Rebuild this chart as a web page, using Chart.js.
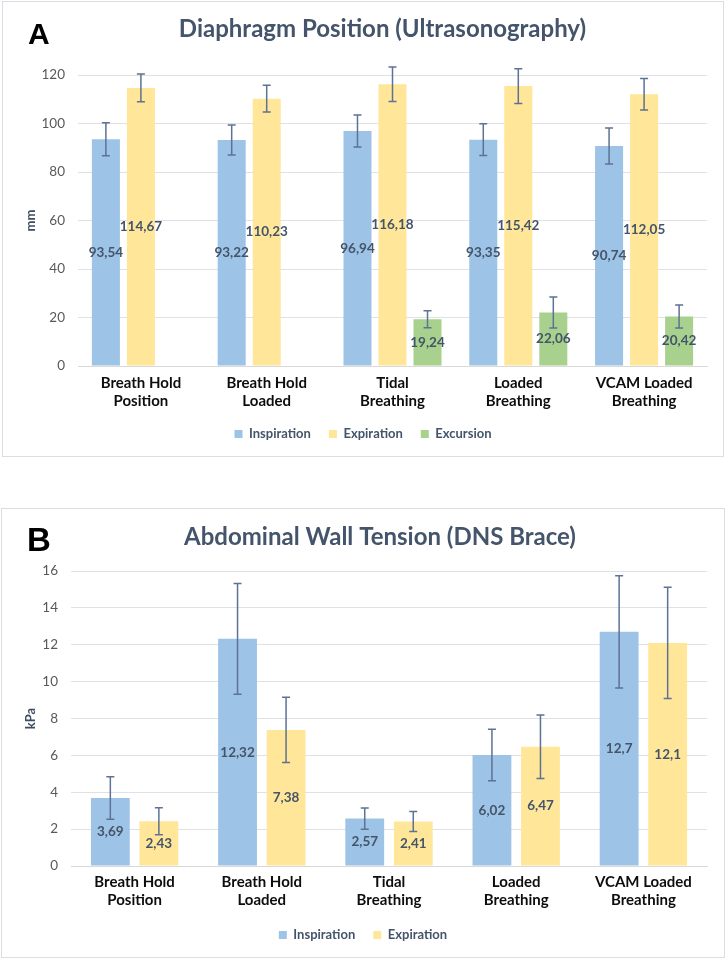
<!DOCTYPE html>
<html><head><meta charset="utf-8">
<script src="https://cdn.jsdelivr.net/npm/chart.js@4.4.0/dist/chart.umd.min.js"></script>
<style>
body{margin:0;background:#fff;width:726px;height:959px;position:relative;overflow:hidden;font-family:Lato,sans-serif}
.box{position:absolute;border:1px solid #dadde2;box-sizing:border-box}
.wrap{position:absolute;left:0;width:726px}
</style></head><body>
<div class="box" style="left:2px;top:1px;width:722px;height:456px"></div>
<div class="box" style="left:1px;top:508px;width:724px;height:450px"></div>
<div class="wrap" style="top:0;height:458px"><canvas id="cA"></canvas></div>
<div class="wrap" style="top:500px;height:459px"><canvas id="cB"></canvas></div>
<script>
// ---------- DATA ----------
const categories = [["Breath Hold","Position"],["Breath Hold","Loaded"],["Tidal","Breathing"],["Loaded","Breathing"],["VCAM Loaded","Breathing"]];
const seriesNamesA = ["Inspiration","Expiration","Excursion"];
const inspA = [93.54, 93.22, 96.94, 93.35, 90.74];
const expA  = [114.67, 110.23, 116.18, 115.42, 112.05];
const excA  = [null, null, 19.24, 22.06, 20.42];
const inspErrA = [6.8, 6.2, 6.6, 6.5, 7.4];
const expErrA  = [5.7, 5.5, 7.1, 7.2, 6.5];
const excErrA  = [null, null, 3.5, 6.4, 4.7];
const ticksA = [0, 20, 40, 60, 80, 100, 120];

const seriesNamesB = ["Inspiration","Expiration"];
const inspB = [3.69, 12.32, 2.57, 6.02, 12.7];
const expB  = [2.43, 7.38, 2.41, 6.47, 12.1];
const inspErrB = [1.15, 3.0, 0.57, 1.4, 3.04];
const expErrB  = [0.73, 1.77, 0.54, 1.72, 3.02];
const ticksB = [0, 2, 4, 6, 8, 10, 12, 14, 16];

const titleA = "Diaphragm Position (Ultrasonography)";
const titleB = "Abdominal Wall Tension (DNS Brace)";

// ---------- STYLE ----------
const COL = {insp:"#9dc3e6", exp:"#ffe699", exc:"#a9d18e"};
const FONT = "Lato, 'Open Sans', sans-serif";

const panelPlugin = {
  id: 'panel',
  afterDraw(chart, args, o) {
    const ctx = chart.ctx;
    ctx.save();
    ctx.fillStyle = '#000';
    ctx.font = `bold ${o.letterSize}px 'Liberation Sans', Arial, sans-serif`;
    ctx.textAlign = 'left'; ctx.textBaseline = 'alphabetic';
    ctx.fillText(o.letter, o.letterX, o.letterY);
    ctx.fillStyle = '#44546a';
    ctx.font = `bold ${o.titleSize}px ${FONT}`;
    ctx.textAlign = 'center';
    ctx.fillText(o.title, o.titleX, o.titleY);
    ctx.restore();
  }
};

const errLabelPlugin = {
  id: 'errLabels',
  afterDatasetsDraw(chart, args, o) {
    const ctx = chart.ctx;
    const yS = chart.scales.y;
    ctx.save();
    chart.data.datasets.forEach((ds, di) => {
      const meta = chart.getDatasetMeta(di);
      meta.data.forEach((el, i) => {
        const v = ds.data[i];
        const e = ds.errors ? ds.errors[i] : null;
        if (v == null || e == null) return;
        const yt = yS.getPixelForValue(v + e), yb = yS.getPixelForValue(v - e);
        ctx.strokeStyle = '#5d7294'; ctx.lineWidth = 1.5;
        ctx.beginPath();
        ctx.moveTo(el.x, yt); ctx.lineTo(el.x, yb);
        ctx.moveTo(el.x - 4, yt); ctx.lineTo(el.x + 4, yt);
        ctx.moveTo(el.x - 4, yb); ctx.lineTo(el.x + 4, yb);
        ctx.stroke();
      });
    });
    ctx.fillStyle = '#44546a';
    ctx.font = `bold 13.5px ${FONT}`;
    ctx.textAlign = 'center'; ctx.textBaseline = 'middle';
    chart.data.datasets.forEach((ds, di) => {
      const meta = chart.getDatasetMeta(di);
      meta.data.forEach((el, i) => {
        const v = ds.data[i];
        if (v == null) return;
        ctx.fillText(String(v).replace('.', ','), el.x, (el.y + el.base) / 2);
      });
    });
    ctx.restore();
  }
};

function makeChart(id, cfg) {
  return new Chart(document.getElementById(id), {
    type: 'bar',
    data: { labels: categories, datasets: cfg.datasets },
    plugins: [panelPlugin, errLabelPlugin],
    options: {
      responsive: true, maintainAspectRatio: false, animation: false,
      devicePixelRatio: 1,
      layout: { padding: { left: 19, right: 19, top: cfg.top, bottom: 7.5 } },
      datasets: { bar: { categoryPercentage: cfg.catPct, barPercentage: 0.8 } },
      scales: {
        x: {
          grid: { display: false, drawTicks: false },
          border: { display: true, color: '#d9d9d9' },
          ticks: { padding: cfg.xPad, color: '#0d0d0d', font: { family: FONT, size: 15, weight: 'bold', lineHeight: 1.22 }, maxRotation: 0, autoSkip: false },
          afterFit(s) { s.height = cfg.xH; }
        },
        y: {
          min: cfg.ticks[0], max: cfg.ticks[cfg.ticks.length - 1],
          afterBuildTicks(s) { s.ticks = cfg.ticks.map(v => ({ value: v })); },
          grid: { color: '#dfe1e5', drawTicks: false },
          border: { display: false },
          ticks: { padding: 13, color: '#595959', font: { family: FONT, size: 13.5 } },
          title: { display: true, text: cfg.unit, color: '#3f4d63', font: { family: FONT, size: 13, weight: 'bold' }, padding: { top: 4.2, bottom: 0 } },
          afterFit(s) { s.width = cfg.yW; }
        }
      },
      plugins: {
        title: { display: false },
        tooltip: { enabled: false },
        legend: {
          position: 'bottom',
          labels: { boxWidth: 8, boxHeight: 8, padding: 18, color: '#44546a', font: { family: FONT, size: 13, weight: 'bold' } }
        },
        panel: cfg.panel
      }
    }
  });
}

makeChart('cA', {
  datasets: [
    { label: seriesNamesA[0], data: inspA, errors: inspErrA, backgroundColor: COL.insp },
    { label: seriesNamesA[1], data: expA, errors: expErrA, backgroundColor: COL.exp },
    { label: seriesNamesA[2], data: excA, errors: excErrA, backgroundColor: COL.exc }
  ],
  ticks: ticksA, unit: 'mm', top: 75, catPct: 0.835, xPad: 8, xH: 43.5, yW: 59,
  panel: { letter: 'A', letterSize: 30, letterX: 28, letterY: 44, title: titleA, titleSize: 24, titleX: 382.5, titleY: 36.5 }
});

makeChart('cB', {
  datasets: [
    { label: seriesNamesB[0], data: inspB, errors: inspErrB, backgroundColor: COL.insp },
    { label: seriesNamesB[1], data: expB, errors: expErrB, backgroundColor: COL.exp }
  ],
  ticks: ticksB, unit: 'kPa', top: 71, catPct: 0.763, xPad: 7, xH: 44.5, yW: 52,
  panel: { letter: 'B', letterSize: 33, letterX: 27, letterY: 50.7, title: titleB, titleSize: 24, titleX: 380, titleY: 45 }
});
</script>
</body></html>
